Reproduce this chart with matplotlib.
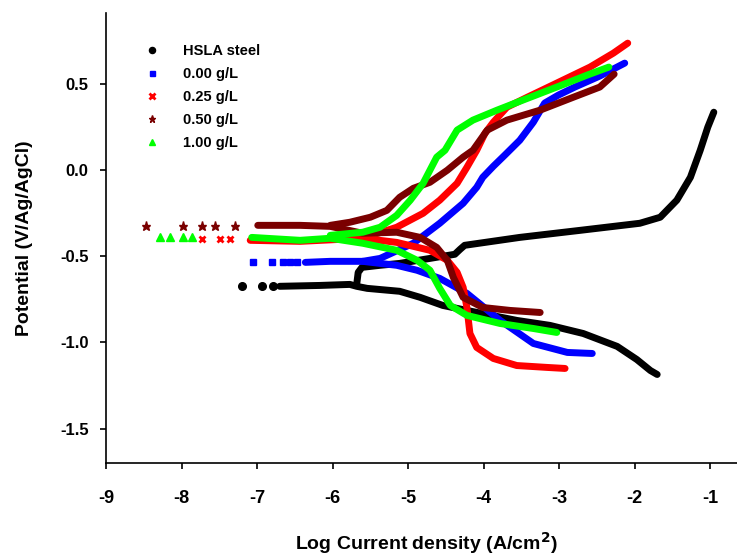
import matplotlib
matplotlib.use('Agg')
import matplotlib.pyplot as plt
from matplotlib.lines import Line2D

plt.rcParams['font.family'] = ['Liberation Sans', 'DejaVu Sans']
plt.rcParams['font.weight'] = 'bold'
plt.rcParams['axes.unicode_minus'] = False

labels = ['HSLA steel', '0.00 g/L', '0.25 g/L', '0.50 g/L', '1.00 g/L']
colors = ['black', '#0000ff', '#ff0000', '#7a0000', '#00ff00']
markers = ['o', 's', 'x', '*', '^']

# HSLA steel
hsla_sparse_x = [-7.20, -6.93, -6.79]
hsla_sparse_y = [-0.674, -0.674, -0.674]
hsla_cat_x = [-6.70, -6.17, -5.77, -5.68, -5.54, -5.11, -4.84, -4.54, -4.22, -3.56,
              -3.12, -2.68, -2.23, -1.97, -1.79, -1.70]
hsla_cat_y = [-0.674, -0.669, -0.663, -0.674, -0.686, -0.703, -0.738, -0.785, -0.814, -0.872,
              -0.901, -0.948, -1.023, -1.099, -1.163, -1.186]
hsla_an_x = [-5.68, -5.66, -5.61, -5.37, -5.11, -4.71, -4.38, -4.31, -4.25, -3.52,
             -2.72, -1.93, -1.66, -1.44, -1.26, -1.13, -1.03, -0.95]
hsla_an_y = [-0.663, -0.593, -0.564, -0.552, -0.541, -0.512, -0.488, -0.459, -0.436, -0.390,
             -0.349, -0.308, -0.273, -0.174, -0.041, 0.116, 0.250, 0.337]

# 0.00 g/L
c000_sparse_x = [-7.05, -6.80, -6.66, -6.56, -6.47]
c000_sparse_y = [-0.535, -0.535, -0.535, -0.535, -0.535]
c000_cat_x = [-6.36, -6.03, -5.60, -5.37, -5.15, -4.88, -4.58, -4.22, -3.78, -3.34, -2.89, -2.56]
c000_cat_y = [-0.535, -0.529, -0.529, -0.541, -0.552, -0.581, -0.628, -0.715, -0.872, -1.006,
              -1.058, -1.064]
c000_an_x = [-5.60, -5.37, -4.93, -4.58, -4.27, -4.09, -4.01, -3.87, -3.72, -3.52, -3.34,
             -3.19, -3.01, -2.79, -2.46, -2.13]
c000_an_y = [-0.529, -0.512, -0.424, -0.308, -0.192, -0.099, -0.041, 0.023, 0.087, 0.174, 0.279,
             0.390, 0.436, 0.483, 0.547, 0.622]

# 0.25 g/L
c025_sparse_x = [-7.73, -7.49, -7.36]
c025_sparse_y = [-0.401, -0.401, -0.401]
c025_cat_x = [-7.09, -6.43, -5.60, -5.15, -4.71, -4.48, -4.35, -4.27, -4.22, -4.18, -4.09,
              -3.87, -3.56, -3.16, -2.92]
c025_cat_y = [-0.407, -0.413, -0.395, -0.419, -0.465, -0.523, -0.593, -0.680, -0.797, -0.948,
              -1.029, -1.093, -1.134, -1.145, -1.151]
c025_an_x = [-5.60, -5.15, -4.80, -4.58, -4.35, -4.22, -4.09, -3.98, -3.87, -3.69, -3.42,
             -3.03, -2.59, -2.28, -2.09]
c025_an_y = [-0.395, -0.331, -0.250, -0.174, -0.076, 0.017, 0.116, 0.215, 0.279, 0.366, 0.424,
             0.506, 0.599, 0.680, 0.738]

# 0.50 g/L
c050_sparse_x = [-8.47, -7.98, -7.73, -7.56, -7.29]
c050_sparse_y = [-0.326, -0.326, -0.326, -0.326, -0.326]
c050_cat_x = [-6.99, -6.43, -6.03, -5.60, -5.15, -4.84, -4.62, -4.48, -4.40, -4.27, -4.01,
              -3.65, -3.25]
c050_cat_y = [-0.320, -0.320, -0.326, -0.366, -0.360, -0.390, -0.448, -0.523, -0.622, -0.738,
              -0.797, -0.814, -0.826]
c050_an_x = [-6.03, -5.77, -5.50, -5.28, -5.11, -4.93, -4.71, -4.48, -4.27, -4.14, -3.95,
             -3.69, -3.25, -2.81, -2.46, -2.27]
c050_an_y = [-0.320, -0.302, -0.273, -0.233, -0.157, -0.105, -0.070, 0.000, 0.076, 0.116, 0.233,
             0.291, 0.349, 0.424, 0.483, 0.558]

# 1.00 g/L
c100_sparse_x = [-8.28, -8.15, -7.98, -7.86]
c100_sparse_y = [-0.390, -0.390, -0.390, -0.390]
c100_cat_x = [-7.07, -6.43, -6.03, -5.60, -5.15, -4.88, -4.71, -4.58, -4.44, -4.22, -3.78,
              -3.34, -3.03]
c100_cat_y = [-0.390, -0.407, -0.395, -0.424, -0.465, -0.523, -0.581, -0.686, -0.785, -0.843,
              -0.890, -0.919, -0.942]
c100_an_x = [-6.03, -5.60, -5.37, -5.15, -4.97, -4.80, -4.71, -4.62, -4.51, -4.35, -4.14,
             -3.82, -3.48, -3.03, -2.63, -2.34]
c100_an_y = [-0.378, -0.360, -0.331, -0.262, -0.174, -0.076, 0.000, 0.076, 0.116, 0.233, 0.291,
             0.349, 0.407, 0.483, 0.552, 0.599]

series = [
    (hsla_sparse_x, hsla_sparse_y, hsla_cat_x, hsla_cat_y, hsla_an_x, hsla_an_y),
    (c000_sparse_x, c000_sparse_y, c000_cat_x, c000_cat_y, c000_an_x, c000_an_y),
    (c025_sparse_x, c025_sparse_y, c025_cat_x, c025_cat_y, c025_an_x, c025_an_y),
    (c050_sparse_x, c050_sparse_y, c050_cat_x, c050_cat_y, c050_an_x, c050_an_y),
    (c100_sparse_x, c100_sparse_y, c100_cat_x, c100_cat_y, c100_an_x, c100_an_y),
]
msizes = [5.5, 4.5, 5, 6.5, 6]

fig = plt.figure(figsize=(7.37, 5.56), dpi=100)
ax = fig.add_axes([106 / 737, 1 - 463 / 556, 631 / 737, 450 / 556])

for (sx, sy, cx, cy, axx, ayy), col, mk, ms in zip(series, colors, markers, msizes):
    ax.plot(cx, cy, color=col, lw=5, solid_capstyle='round', solid_joinstyle='round')
    ax.plot(axx, ayy, color=col, lw=5, solid_capstyle='round', solid_joinstyle='round')
    ax.plot(sx, sy, ls='none', marker=mk, color=col, ms=ms, mew=2 if mk == 'x' else 1)

ax.set_xlim(-9, -0.643)
ax.set_ylim(-1.70, 0.913)
ax.set_xticks([-9, -8, -7, -6, -5, -4, -3, -2, -1])
ax.set_yticks([0.5, 0.0, -0.5, -1.0, -1.5])
ax.set_yticklabels(['0.5', '0.0', '-0.5', '-1.0', '-1.5'])

for s in ['top', 'right']:
    ax.spines[s].set_visible(False)
for s in ['left', 'bottom']:
    ax.spines[s].set_linewidth(1.2)

ax.tick_params(axis='both', direction='out', length=4.5, width=1.2)
ax.tick_params(axis='y', pad=8, labelsize=12)
ax.tick_params(axis='x', pad=15, labelsize=13)
for t in ax.get_xticklabels() + ax.get_yticklabels():
    t.set_fontweight('bold')

ax.set_ylabel('Potential (V/Ag/AgCl)', fontsize=14, fontweight='bold')
ax.yaxis.set_label_coords(-0.115, 0.5)
ax.set_xlabel('Log Current density (A/cm$^\\mathbf{2}$)', fontsize=14, fontweight='bold')
ax.xaxis.set_label_coords(0.507, -0.15)

handles = [Line2D([], [], ls='none', marker=m, color=c, ms=s * 0.8, mew=2 if m == 'x' else 1)
           for m, c, s in zip(markers, colors, msizes)]
ax.legend(handles, labels, loc='upper left', bbox_to_anchor=(145 / 737, 1 - 44 / 556),
          bbox_transform=fig.transFigure, frameon=False, borderpad=0, borderaxespad=0,
          handlelength=1.0, handletextpad=1.6, labelspacing=0.62,
          prop={'weight': 'bold', 'size': 10.5})

fig.savefig('out.png', dpi=100, facecolor='white')
